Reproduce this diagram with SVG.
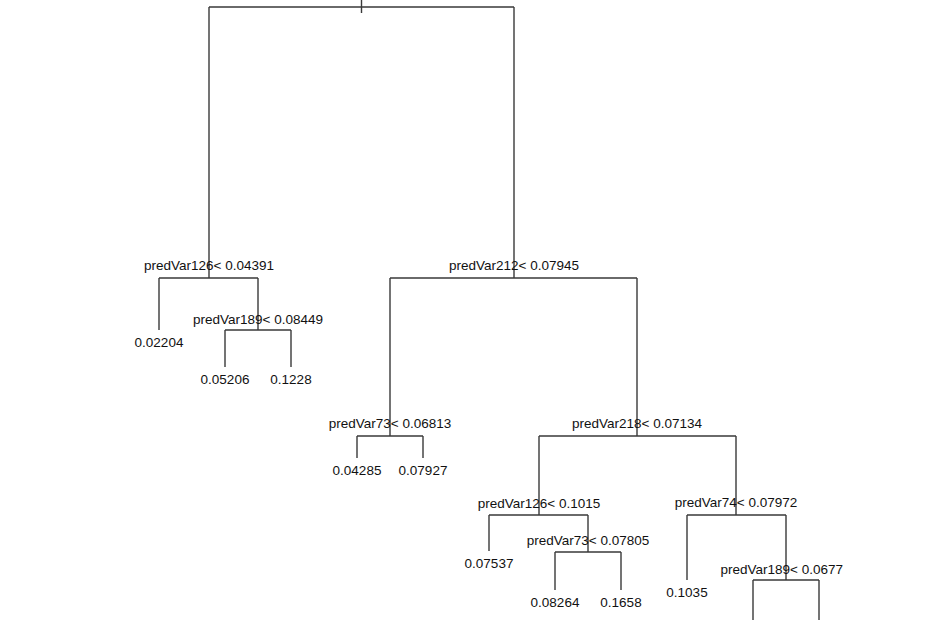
<svg xmlns="http://www.w3.org/2000/svg" width="930" height="620" viewBox="0 0 930 620">
<style>
.e{fill:none;stroke:#3a3a3a;stroke-width:1.4;stroke-linecap:butt}
text{font-family:"Liberation Sans",Arial,sans-serif;font-size:13.5px;fill:#111;text-anchor:middle}
</style>
<defs><clipPath id="clip"><rect x="0" y="0" width="848" height="620"/></clipPath></defs>
<rect width="930" height="620" fill="#fff"/>
<g id="connectors">
<path class="e" d="M361.5 0V13M209 7H514"/>
<path class="e" d="M209 7V278M159 278H258M159 278V330M258 278V330M225 330H291M225 330V367M291 330V367"/>
<path class="e" d="M514 7V278M390 278H637M390 278V436M357 436H423M357 436V458M423 436V458"/>
<path class="e" d="M637 278V436M539 436H736M539 436V515M489 515H588M489 515V551M588 515V552M555 552H621M555 552V590M621 552V590"/>
<path class="e" d="M736 436V515M687 515H786M687 515V580M786 515V580M753 580H819M753 580V620M819 580V620"/>
</g>
<g id="n_predVar126_a"><text x="209" y="269.5">predVar126&lt; 0.04391</text></g>
<g id="leaf_02204"><text x="159" y="347">0.02204</text></g>
<g id="n_predVar189_a"><text x="258" y="323.5">predVar189&lt; 0.08449</text></g>
<g id="leaf_05206"><text x="225" y="384">0.05206</text></g>
<g id="leaf_1228"><text x="291" y="384">0.1228</text></g>
<g id="n_predVar212"><text x="514" y="269.5">predVar212&lt; 0.07945</text></g>
<g id="n_predVar73_a"><text x="390" y="427.5">predVar73&lt; 0.06813</text></g>
<g id="leaf_04285"><text x="357" y="475">0.04285</text></g>
<g id="leaf_07927"><text x="423" y="475">0.07927</text></g>
<g id="n_predVar218"><text x="637" y="427.5">predVar218&lt; 0.07134</text></g>
<g id="n_predVar126_b"><text x="539" y="507.5">predVar126&lt; 0.1015</text></g>
<g id="leaf_07537"><text x="489" y="568">0.07537</text></g>
<g id="n_predVar73_b"><text x="588" y="544.5">predVar73&lt; 0.07805</text></g>
<g id="leaf_08264"><text x="555" y="607">0.08264</text></g>
<g id="leaf_1658"><text x="621" y="607">0.1658</text></g>
<g id="n_predVar74"><text x="736" y="507">predVar74&lt; 0.07972</text></g>
<g id="leaf_1035"><text x="687" y="597">0.1035</text></g>
<g id="n_predVar189_b"><text x="720.5" y="573.5" style="text-anchor:start" clip-path="url(#clip)">predVar189&lt; 0.0677</text></g>
</svg>
